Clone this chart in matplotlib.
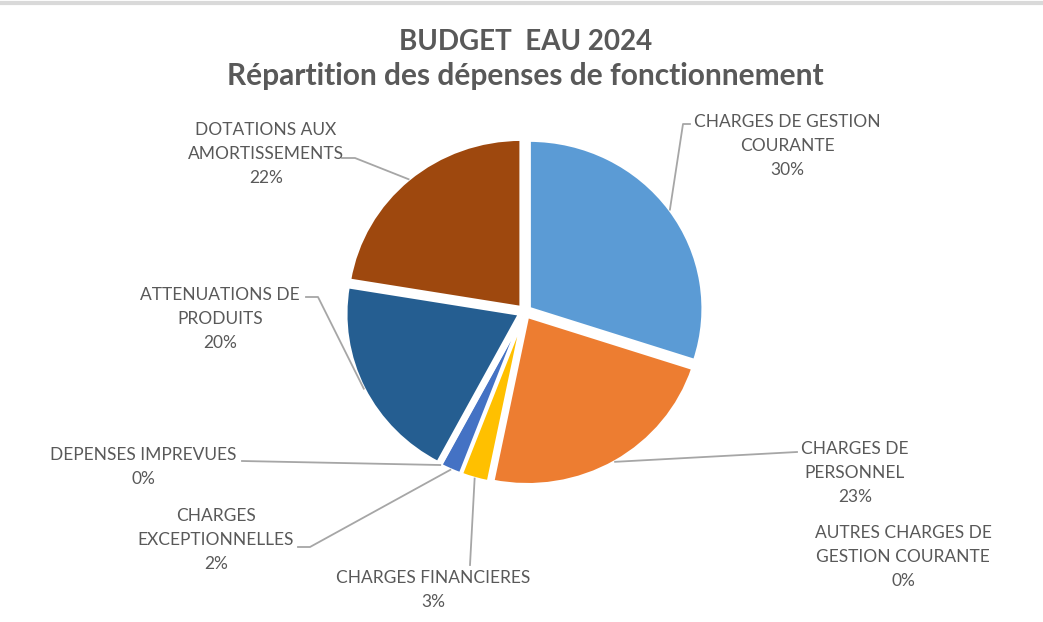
import numpy as np
import matplotlib
matplotlib.use('Agg')
import matplotlib.pyplot as plt

W, H = 1043, 622

# données (en %)
labels = ['CHARGES DE GESTION\nCOURANTE', 'CHARGES DE\nPERSONNEL',
          'AUTRES CHARGES DE\nGESTION COURANTE', 'CHARGES FINANCIERES',
          'CHARGES\nEXCEPTIONNELLES', 'DEPENSES IMPREVUES',
          'ATTENUATIONS DE\nPRODUITS', 'DOTATIONS AUX\nAMORTISSEMENTS']
values = [30.0, 23.2, 0.0, 2.6, 2.0, 0.0, 19.8, 22.4]
pct_labels = ['30%', '23%', '0%', '3%', '2%', '0%', '20%', '22%']
colors = ['#5B9BD5', '#ED7D31', '#A5A5A5', '#FFC000',
          '#4472C4', '#70AD47', '#255E91', '#9E480E']

# position des étiquettes (pixels image, haut du bloc) et coude de la ligne de rappel
label_pos = [(787, 114), (855, 441), (903, 525), (433, 570),
             (216, 508), (143, 447), (220, 287), (266, 122)]
elbows = [[(683, 124), (690, 124)], [(797, 452)], None, [(470, 565)],
          [(310, 547), (298, 547)], [(242, 461)],
          [(318, 297), (306, 297)], [(355, 158), (342, 158)]]

TXT = '#595959'
plt.rcParams['font.family'] = ['Lato', 'DejaVu Sans']

# le camembert de la capture est légèrement étiré en largeur
SY = 1.033

fig = plt.figure(figsize=(W / 100, H / 100), dpi=100)
ax = fig.add_axes([0, 0, 1, 1])


def Y(y):
    return (H - y) * SY


cx, cy, R = 524.7, Y(311.7), 174
wedges, _ = ax.pie(values, colors=colors, startangle=90, counterclock=False,
                   center=(cx, cy), radius=R, explode=[5.5] * len(values),
                   wedgeprops=dict(edgecolor='white', linewidth=2.5),
                   frame=True)
ax.set_xlim(0, W)
ax.set_ylim(0, H * SY)
ax.set_aspect('auto')
ax.axis('off')

for i, w in enumerate(wedges):
    mid = np.deg2rad((w.theta1 + w.theta2) / 2)
    wx, wy = w.center
    sx, sy = wx + R * np.cos(mid), wy + R * np.sin(mid)
    lx, ly = label_pos[i]
    if elbows[i]:
        pts = [(sx, sy)] + [(px, Y(py)) for px, py in elbows[i]]
        xs, ys = zip(*pts)
        ax.plot(xs, ys, color='#A6A6A6', lw=1.3, zorder=1)
    ax.text(lx, Y(ly), labels[i] + '\n' + pct_labels[i], ha='center', va='top',
            fontsize=12.5, color=TXT, linespacing=1.62)

ax.text(W / 2 + 4, Y(42), 'BUDGET  EAU 2024', ha='center', va='center',
        fontsize=20, fontweight='bold', color=TXT)
ax.text(W / 2 + 4, Y(76), 'Répartition des dépenses de fonctionnement',
        ha='center', va='center', fontsize=21.5, fontweight='bold', color=TXT)

ax.plot([0, W], [Y(2.5), Y(2.5)], color='#D9D9D9', lw=3)

fig.savefig('out.png', dpi=100)
